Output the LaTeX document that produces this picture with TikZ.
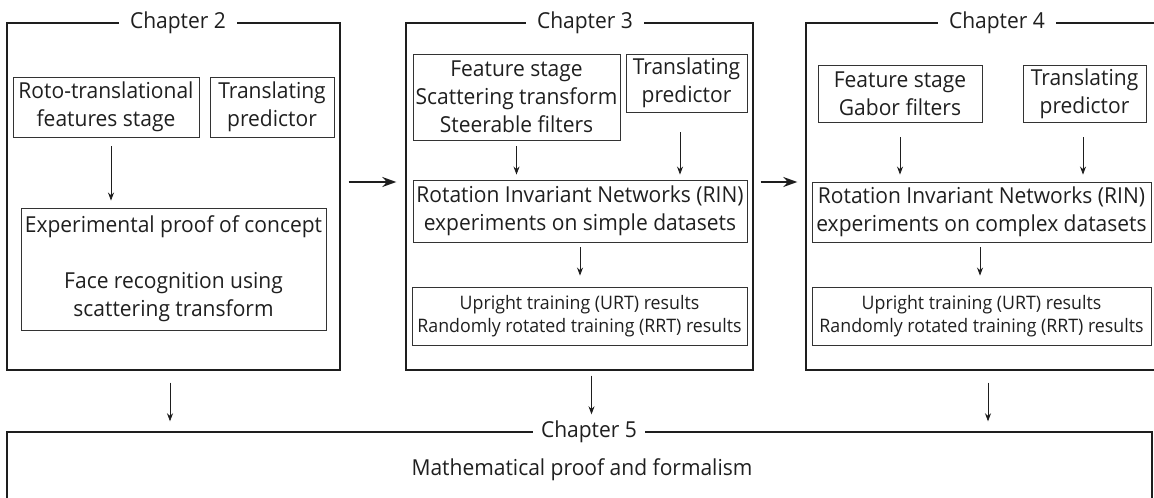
\documentclass[tikz,border=0pt]{standalone}
\usepackage{fontspec}
\setmainfont{Open Sans}[FakeStretch=0.955]
\usetikzlibrary{arrows.meta}
\definecolor{ink}{HTML}{1E1E1E}
\definecolor{boxline}{HTML}{333333}
\definecolor{txt}{HTML}{1F1F1F}
\begin{document}
\begin{tikzpicture}[x=1pt,y=-1pt,
  font=\fontsize{22}{28}\selectfont, text=txt,
  frame/.style={draw=ink, line width=1.4pt, inner sep=0pt},
  chap/.style={fill=white, inner xsep=11pt, inner ysep=2pt},
  box/.style={draw=boxline, line width=0.9pt, inner sep=0pt, align=center},
  small/.style={font=\fontsize{18.6}{23}\selectfont},
  arr/.style={-{Stealth[length=8pt,width=6pt]}, draw=ink, line width=0.8pt},
  bigarr/.style={-{Stealth[length=14pt,width=10pt]}, draw=ink, line width=1.6pt}]
\useasboundingbox (0,0) rectangle (1154,498);

% chapter frames
\node[frame, minimum width=333pt, minimum height=347pt] (ch2) at (173.5,196.5) {};
\node[frame, minimum width=347pt, minimum height=347pt] (ch3) at (579.5,196.5) {};
\node[frame, minimum width=351pt, minimum height=347pt] (ch4) at (981.5,196.5) {};
\node[frame, minimum width=1145pt, minimum height=108pt] (ch5) at (579.5,486) {};

\node[chap] (t2) at (178,23) {Chapter 2};
\node[chap] (t3) at (585,23) {Chapter 3};
\node[chap] (t4) at (997,23) {Chapter 4};
\node[chap, inner xsep=8pt] (t5) at (589,432) {Chapter 5};

% Chapter 2
\node[box, minimum width=186pt, minimum height=60pt] (roto2) at (106,107)
  {Roto-translational\\features stage};
\node[box, minimum width=124pt, minimum height=60pt] (pred2) at (272,107)
  {Translating\\predictor};
\node[box, minimum width=305pt, minimum height=122pt] (exp2) at (173.5,269)
  {Experimental proof of concept\\[28pt]Face recognition using\\scattering transform};

% Chapter 3
\node[box, minimum width=207pt, minimum height=86pt] (feat3) at (516.5,97)
  {Feature stage\\Scattering transform\\Steerable filters};
\node[box, minimum width=121pt, minimum height=58pt] (pred3) at (686.5,83)
  {Translating\\predictor};
\node[box, minimum width=334pt, minimum height=62pt] (rin3) at (580,211)
  {Rotation Invariant Networks (RIN)\\experiments on simple datasets};
\node[box, small, minimum width=335pt, minimum height=58pt] (urt3) at (579.5,316)
  {Upright training (URT) results\\Randomly rotated training (RRT) results};

% Chapter 4
\node[box, minimum width=164pt, minimum height=57pt] (feat4) at (900,93.5)
  {Feature stage\\Gabor filters};
\node[box, minimum width=123pt, minimum height=57pt] (pred4) at (1084.5,93.5)
  {Translating\\predictor};
\node[box, minimum width=339pt, minimum height=60pt] (rin4) at (981.5,212)
  {Rotation Invariant Networks (RIN)\\experiments on complex datasets};
\node[box, small, minimum width=339pt, minimum height=58pt] (urt4) at (981.5,316)
  {Upright training (URT) results\\Randomly rotated training (RRT) results};

% Chapter 5
\node (math5) at (582,470) {Mathematical proof and formalism};

% connectors inside the chapters
\draw[arr, shorten <=9pt, shorten >=7pt]
  ([xshift=5pt]roto2.south) -- ([xshift=5pt]roto2.south |- exp2.north);
\draw[arr, shorten <=6pt, shorten >=5pt]
  (feat3.south) -- (feat3.south |- rin3.north);
\draw[arr, shorten <=20pt, shorten >=5pt]
  ([xshift=-6.5pt]pred3.south) -- ([xshift=-6.5pt]pred3.south |- rin3.north);
\draw[arr, shorten <=5pt, shorten >=11pt]
  (rin3.south) -- (rin3.south |- urt3.north);
\draw[arr, shorten <=15pt, shorten >=7pt]
  (feat4.south) -- (feat4.south |- rin4.north);
\draw[arr, shorten <=15pt, shorten >=7pt]
  ([xshift=-1.5pt]pred4.south) -- ([xshift=-1.5pt]pred4.south |- rin4.north);
\draw[arr, shorten <=5pt, shorten >=11pt]
  ([xshift=-1.5pt]rin4.south) -- ([xshift=-1.5pt]rin4.south |- urt4.north);

% connectors between the chapters
\draw[bigarr, shorten <=8pt, shorten >=9pt]
  ([yshift=14.5pt]ch2.east) -- ([yshift=14.5pt]ch3.west);
\draw[bigarr, shorten <=7pt, shorten >=8pt]
  ([yshift=14.5pt]ch3.east) -- ([yshift=14.5pt]ch4.west);

\draw[arr, shorten <=12pt, shorten >=10pt]
  ([xshift=-3.5pt]ch2.south) -- ([xshift=-3.5pt]ch2.south |- ch5.north);
\draw[arr, shorten <=5pt, shorten >=17pt]
  ([xshift=12pt]ch3.south) -- ([xshift=12pt]ch3.south |- ch5.north);
\draw[arr, shorten <=12pt, shorten >=10pt]
  ([xshift=6.5pt]ch4.south) -- ([xshift=6.5pt]ch4.south |- ch5.north);
\end{tikzpicture}
\end{document}
